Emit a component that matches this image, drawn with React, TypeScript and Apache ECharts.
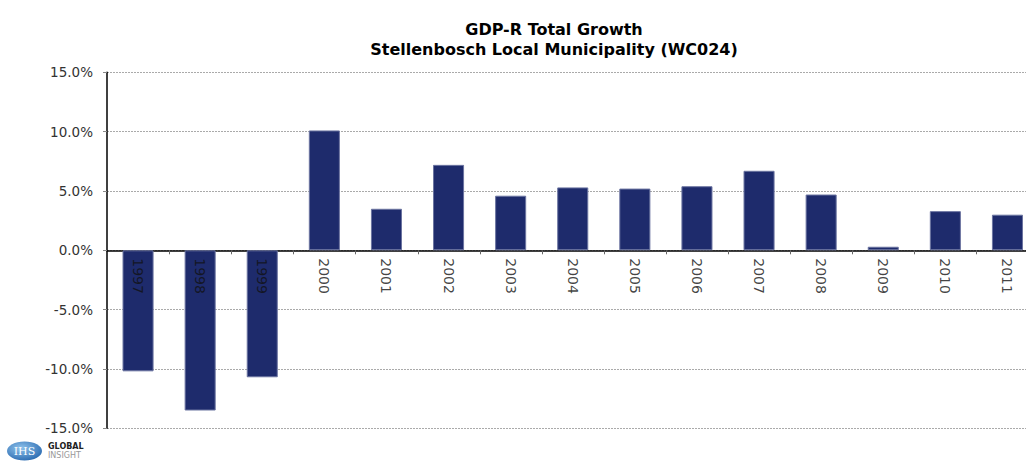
import React, { useEffect, useRef } from "react";
import * as echarts from "echarts";

const categories = ["1997", "1998", "1999", "2000", "2001", "2002", "2003", "2004", "2005", "2006", "2007", "2008", "2009", "2010", "2011"];
const growth = [-10.2, -13.5, -10.7, 10.1, 3.5, 7.2, 4.6, 5.3, 5.2, 5.4, 6.7, 4.7, 0.3, 3.3, 3.0];
const titleLines = ["GDP-R Total Growth", "Stellenbosch Local Municipality (WC024)"];

export default function App() {
  const ref = useRef<HTMLDivElement>(null);
  useEffect(() => {
    if (!ref.current) return;
    const chart = echarts.init(ref.current, null, { renderer: "svg" });
    const font = "'DejaVu Sans', Verdana, sans-serif";
    chart.setOption({
      animation: false,
      backgroundColor: "#ffffff",
      grid: { left: 107, right: 6.5, top: 72.3, bottom: 38.7, containLabel: false, outerBoundsMode: "none" },
      xAxis: {
        type: "category",
        data: categories,
        axisLine: { show: true, onZero: true, lineStyle: { color: "#000", width: 1.5 } },
        axisTick: { show: false },
        axisLabel: { show: false },
        splitLine: { show: false },
      },
      yAxis: {
        type: "value",
        min: -15,
        max: 15,
        interval: 5,
        axisLine: { show: true, lineStyle: { color: "#000", width: 1.5 } },
        axisTick: { show: true, length: 4, lineStyle: { color: "#888" } },
        axisLabel: {
          fontSize: 13.5,
          color: "#333",
          fontFamily: font,
          margin: 14,
          formatter: (v: number) => v.toFixed(1) + "%",
        },
        splitLine: { show: true, lineStyle: { color: "#aaa", type: [2, 1], width: 1 } },
      },
      series: [
        {
          type: "bar",
          data: growth,
          barWidth: "50%",
          z: 2,
          itemStyle: { color: "#1e2b6c", borderColor: "#6b74a0", borderWidth: 1 },
        },
        {
          type: "custom",
          silent: true,
          z: 3,
          data: categories.map((c, i) => [i, 0]),
          renderItem: (params: any, api: any) => {
            const p = api.coord([api.value(0), 0]);
            const w = api.size([1, 0])[0];
            const x = Math.round(p[0] + w / 2) + 0.5;
            return {
              type: "line",
              shape: { x1: x, y1: p[1], x2: x, y2: p[1] + 4 },
              style: { stroke: "#666", lineWidth: 1 },
            };
          },
        },
        {
          type: "scatter",
          data: categories.map((c) => [c, 0]),
          symbolSize: 0,
          silent: true,
          z: 5,
          label: {
            show: true,
            position: "bottom",
            distance: 8,
            rotate: -90,
            align: "left",
            verticalAlign: "middle",
            fontSize: 14,
            color: "#111",
            textBorderWidth: 0,
            fontFamily: font,
            formatter: (p: any) => p.value[0],
          },
        },
      ],
      graphic: [
        {
          type: "text",
          x: 554,
          y: 19,
          style: {
            text: titleLines.join("\n"),
            font: "bold 16px 'DejaVu Sans', Verdana, sans-serif",
            lineHeight: 20,
            fill: "#000",
            textAlign: "center",
            textVerticalAlign: "top",
          },
        },
        {
          type: "ellipse",
          shape: { cx: 24.5, cy: 451, rx: 17.5, ry: 9.5 },
          style: {
            fill: new echarts.graphic.RadialGradient(0.4, 0.35, 0.8, [
              { offset: 0, color: "#8fc3ec" },
              { offset: 1, color: "#1d5ea8" },
            ]),
          },
        },
        {
          type: "text",
          x: 24.5,
          y: 451,
          style: {
            text: "IHS",
            font: "11px 'DejaVu Serif', serif",
            fill: "#fff",
            textAlign: "center",
            textVerticalAlign: "middle",
          },
        },
        {
          type: "text",
          x: 48,
          y: 446,
          style: {
            text: "GLOBAL",
            font: "bold 8px 'DejaVu Sans', sans-serif",
            fill: "#222",
            textVerticalAlign: "middle",
          },
        },
        {
          type: "text",
          x: 48,
          y: 455,
          style: {
            text: "INSIGHT",
            font: "8px 'DejaVu Sans', sans-serif",
            fill: "#999",
            textVerticalAlign: "middle",
          },
        },
      ],
    });
    return () => chart.dispose();
  }, []);
  return (
    <div style={{ position: "absolute", left: 0, top: 0, width: 1026, height: 467, overflow: "hidden", background: "#fff" }}>
      <div ref={ref} style={{ width: 1045, height: 467 }} />
    </div>
  );
}
